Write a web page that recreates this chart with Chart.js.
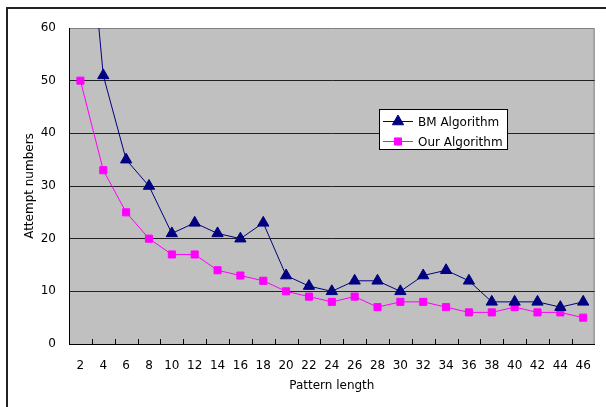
<!DOCTYPE html>
<html>
<head>
<meta charset="utf-8">
<script src="https://cdn.jsdelivr.net/npm/chart.js@4.4.1/dist/chart.umd.min.js"></script>
<style>
  html, body { margin: 0; padding: 0; background: #fff; }
  canvas { display: block; }
</style>
</head>
<body>
<canvas id="attemptChart" width="606" height="407"></canvas>
<script>
var patternLengths = ["2", "4", "6", "8", "10", "12", "14", "16", "18", "20", "22", "24",
  "26", "28", "30", "32", "34", "36", "38", "40", "42", "44", "46"];
var bmAttempts = [98, 51, 35, 30, 21, 23, 21, 20, 23, 13, 11, 10,
  12, 12, 10, 13, 14, 12, 8, 8, 8, 7, 8];
var ourAttempts = [50, 33, 25, 20, 17, 17, 14, 13, 12, 10, 9, 8,
  9, 7, 8, 8, 7, 6, 6, 7, 6, 6, 5];
var yTicks = [0, 10, 20, 30, 40, 50, 60];

var FONT = "'DejaVu Sans', sans-serif";

// gray plot background, frame around the whole chart
var backgroundPlugin = {
  id: "backgroundPlugin",
  beforeDraw: function (chart) {
    var ctx = chart.ctx;
    var a = chart.chartArea;
    ctx.save();
    ctx.fillStyle = "#c0c0c0";
    ctx.fillRect(a.left, a.top, a.right - a.left, a.bottom - a.top);
    ctx.strokeStyle = "#808080";
    ctx.lineWidth = 1;
    ctx.beginPath();
    ctx.moveTo(a.left, a.top + 0.5);
    ctx.lineTo(a.right - 0.5, a.top + 0.5);
    ctx.lineTo(a.right - 0.5, a.bottom);
    ctx.stroke();
    ctx.strokeStyle = "#222";
    ctx.lineWidth = 2;
    ctx.beginPath();
    ctx.moveTo(7, chart.height);
    ctx.lineTo(7, 8);
    ctx.lineTo(chart.width, 8);
    ctx.stroke();
    ctx.restore();
  },
  afterDraw: function (chart) {
    var ctx = chart.ctx;
    var a = chart.chartArea;
    var xs = chart.scales.x;
    var step = xs.getPixelForValue(1) - xs.getPixelForValue(0);
    ctx.save();
    // inward tick marks between categories
    ctx.strokeStyle = "#000";
    ctx.lineWidth = 1;
    ctx.beginPath();
    for (var i = 1; i < patternLengths.length; i++) {
      var x = Math.round(xs.getPixelForValue(i) - step / 2) + 0.5;
      ctx.moveTo(x, a.bottom);
      ctx.lineTo(x, a.bottom - 5);
    }
    ctx.stroke();
    // axis titles
    ctx.fillStyle = "#000";
    ctx.font = "12px " + FONT;
    ctx.textAlign = "center";
    ctx.textBaseline = "middle";
    ctx.fillText("Pattern length", (a.left + a.right) / 2, 386);
    ctx.translate(30, (a.top + a.bottom) / 2);
    ctx.rotate(-Math.PI / 2);
    ctx.fillText("Attempt numbers", 0, 0);
    ctx.restore();

    // legend box
    var lx = 379, ly = 109, lw = 128, lh = 40;
    ctx.save();
    ctx.fillStyle = "#fff";
    ctx.fillRect(lx, ly, lw, lh);
    ctx.strokeStyle = "#000";
    ctx.lineWidth = 1;
    ctx.strokeRect(lx + 0.5, ly + 0.5, lw, lh);
    chart.data.datasets.forEach(function (ds, k) {
      var y = ly + 12.5 + k * 20;
      ctx.strokeStyle = ds.borderColor;
      ctx.lineWidth = 1;
      ctx.beginPath();
      ctx.moveTo(383, y);
      ctx.lineTo(413, y);
      ctx.stroke();
      ctx.fillStyle = ds.pointBackgroundColor;
      ctx.strokeStyle = ds.borderColor;
      Chart.helpers.drawPoint(ctx, {
        pointStyle: ds.pointStyle,
        radius: ds.pointRadius,
        rotation: 0,
        borderWidth: 1,
      }, 398, y);
      ctx.fillStyle = "#000";
      ctx.font = "12px " + FONT;
      ctx.textAlign = "left";
      ctx.textBaseline = "middle";
      ctx.fillText(ds.label, 418, y + 1);
    });
    ctx.restore();
  },
};

var ctx = document.getElementById("attemptChart").getContext("2d");
var attemptChart = new Chart(ctx, {
  type: "line",
  data: {
    labels: patternLengths,
    datasets: [
      {
        label: "BM Algorithm",
        data: bmAttempts,
        borderColor: "#000080",
        backgroundColor: "#000080",
        pointBackgroundColor: "#000080",
        pointBorderColor: "#000080",
        pointStyle: "triangle",
        pointRadius: 6.5,
        borderWidth: 1,
        tension: 0,
      },
      {
        label: "Our Algorithm",
        data: ourAttempts,
        borderColor: "#ff00ff",
        backgroundColor: "#ff00ff",
        pointBackgroundColor: "#ff00ff",
        pointBorderColor: "#ff00ff",
        pointStyle: "rect",
        pointRadius: 5,
        borderWidth: 1,
        tension: 0,
      },
    ],
  },
  options: {
    responsive: false,
    animation: false,
    layout: {
      padding: { top: 28, right: 1, left: 0, bottom: 0 },
    },
    plugins: {
      legend: { display: false },
      tooltip: { enabled: false },
    },
    scales: {
      x: {
        offset: true,
        afterFit: function (scale) {
          scale.height = 63;
        },
        grid: { display: true, drawOnChartArea: false, drawTicks: false, offset: true },
        border: { color: "#000", width: 1 },
        ticks: {
          color: "#000",
          font: { family: FONT, size: 12 },
          padding: 15,
          maxRotation: 0,
          autoSkip: false,
        },
      },
      y: {
        min: yTicks[0],
        max: yTicks[yTicks.length - 1],
        afterFit: function (scale) {
          scale.width = 69;
        },
        afterBuildTicks: function (scale) {
          scale.ticks = yTicks.map(function (v) {
            return { value: v };
          });
        },
        grid: {
          drawTicks: false,
          color: function (c) {
            return c.tick && c.tick.value === 60 ? "rgba(0,0,0,0)" : "#222";
          },
          lineWidth: 1,
        },
        border: { color: "#000", width: 1 },
        ticks: {
          color: "#000",
          font: { family: FONT, size: 12 },
          padding: 13,
        },
      },
    },
  },
  plugins: [backgroundPlugin],
});
</script>
</body>
</html>
